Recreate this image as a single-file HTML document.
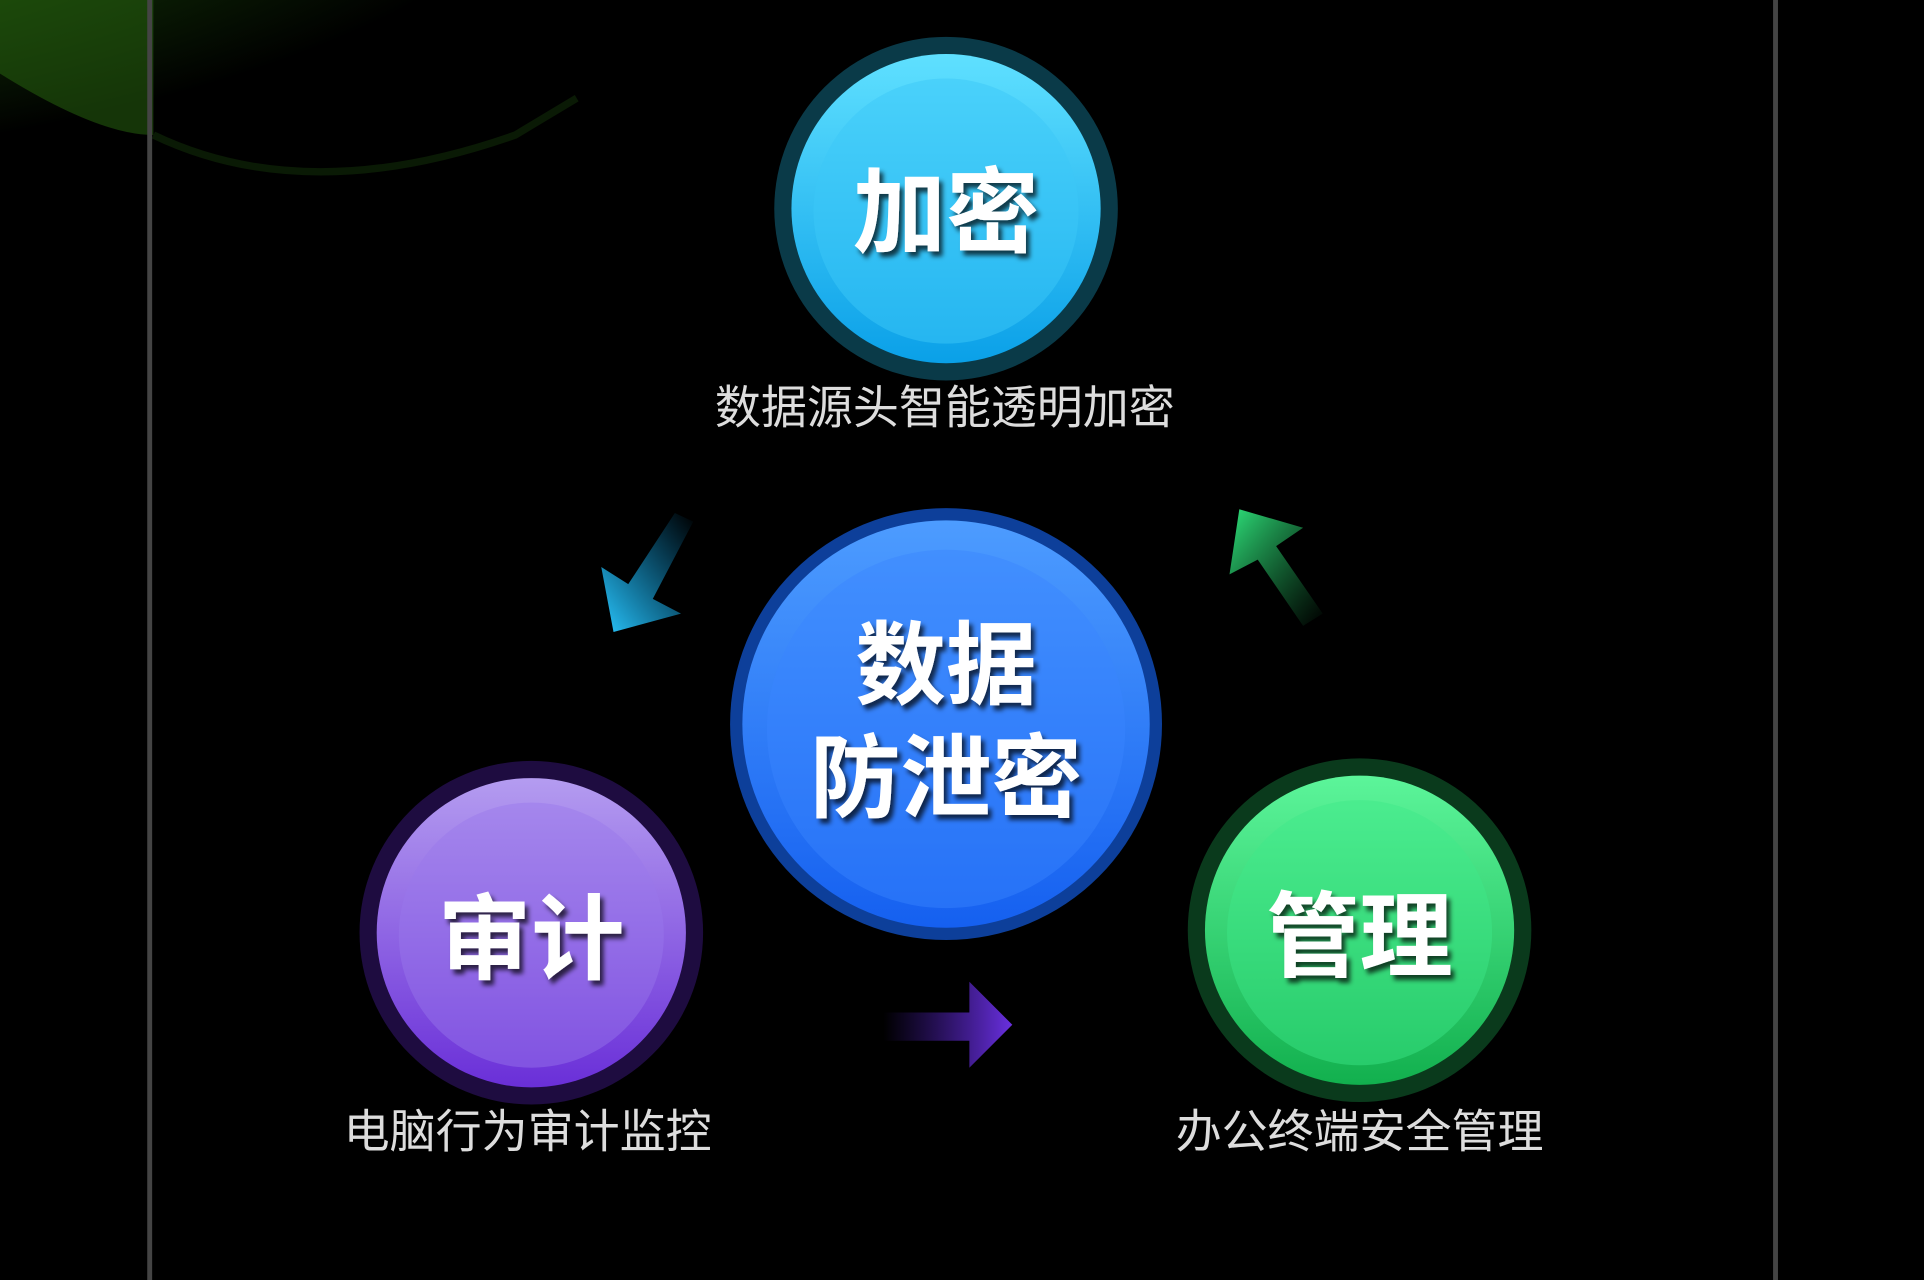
<!DOCTYPE html>
<html><head><meta charset="utf-8"><style>
html,body{margin:0;padding:0;background:#000;width:1924px;height:1280px;overflow:hidden}
svg{display:block}
text{font-family:"Liberation Sans","Noto Sans CJK SC",sans-serif}
</style></head><body>
<svg width="1924" height="1280" viewBox="0 0 1568 1043" preserveAspectRatio="none">
<defs>
<radialGradient id="bg" cx="0" cy="0" r="1">
<stop offset="0" stop-color="#3a8a18"/><stop offset="0.45" stop-color="#1a4a0a"/><stop offset="1" stop-color="#000"/></radialGradient>
<linearGradient id="cy" x1="0" y1="0" x2="0" y2="1"><stop offset="0" stop-color="#5fe0ff"/><stop offset="1" stop-color="#0aa0e8"/></linearGradient>
<linearGradient id="bl" x1="0" y1="0" x2="0" y2="1"><stop offset="0" stop-color="#4d9cff"/><stop offset="1" stop-color="#1560f0"/></linearGradient>
<linearGradient id="pu" x1="0" y1="0" x2="0" y2="1"><stop offset="0" stop-color="#b49cf0"/><stop offset="1" stop-color="#6a2fd8"/></linearGradient>
<linearGradient id="gr" x1="0" y1="0" x2="0" y2="1"><stop offset="0" stop-color="#5cf59a"/><stop offset="1" stop-color="#12b04e"/></linearGradient>
<linearGradient id="ac" x1="1" y1="0" x2="0" y2="1"><stop offset="0" stop-color="#0aa0e8" stop-opacity="0"/><stop offset="1" stop-color="#2ac8ff"/></linearGradient>
<linearGradient id="ag" x1="1" y1="1" x2="0" y2="0"><stop offset="0" stop-color="#1fa050" stop-opacity="0"/><stop offset="1" stop-color="#2ee07a"/></linearGradient>
<linearGradient id="ap" x1="0" y1="0" x2="1" y2="0"><stop offset="0" stop-color="#5020c0" stop-opacity="0"/><stop offset="1" stop-color="#6a30e0"/></linearGradient>
<filter id="sh"><feDropShadow dx="3" dy="4" stdDeviation="2" flood-color="#000" flood-opacity="0.7"/></filter>
</defs>
<rect width="1568" height="1043" fill="#000"/>
<ellipse cx="0" cy="0" rx="470" ry="150" fill="url(#bg)"/>
<path d="M0,60 Q80,110 125,110 L125,0 L0,0 Z" fill="#2a6a10" opacity="0.5"/>
<path d="M125,110 Q250,170 420,110 L470,80" fill="none" stroke="#0a1a05" stroke-width="6"/>
<rect x="120" y="0" width="4" height="1043" fill="#444"/>
<rect x="1445" y="0" width="4" height="1043" fill="#444"/>

<circle cx="771" cy="170" r="140" fill="#0a3a48"/>
<circle cx="771" cy="170" r="126" fill="url(#cy)"/>
<circle cx="771" cy="172" r="108" fill="#3cc8f8" opacity="0.5"/>
<text x="771" y="200" font-size="76" font-weight="bold" fill="#fff" text-anchor="middle" filter="url(#sh)">加密</text>
<text x="770" y="345" font-size="37.5" fill="#ddd" text-anchor="middle">数据源头智能透明加密</text>

<circle cx="771" cy="590" r="176" fill="#0d3f9a"/>
<circle cx="771" cy="590" r="166" fill="url(#bl)"/>
<circle cx="771" cy="594" r="146" fill="#3a86ff" opacity="0.45"/>
<text x="771" y="568" font-size="74" font-weight="bold" fill="#fff" text-anchor="middle" filter="url(#sh)">数据</text>
<text x="771" y="660" font-size="74" font-weight="bold" fill="#fff" text-anchor="middle" filter="url(#sh)">防泄密</text>

<circle cx="433" cy="760" r="140" fill="#1e0c40"/>
<circle cx="433" cy="760" r="126" fill="url(#pu)"/>
<circle cx="433" cy="762" r="108" fill="#9a78ea" opacity="0.45"/>
<text x="433" y="792" font-size="76" font-weight="bold" fill="#fff" text-anchor="middle" filter="url(#sh)">审计</text>
<text x="430" y="935" font-size="37.5" fill="#ddd" text-anchor="middle">电脑行为审计监控</text>

<circle cx="1108" cy="758" r="140" fill="#0a3a1c"/>
<circle cx="1108" cy="758" r="126" fill="url(#gr)"/>
<circle cx="1108" cy="760" r="108" fill="#3ee88a" opacity="0.45"/>
<text x="1108" y="790" font-size="76" font-weight="bold" fill="#fff" text-anchor="middle" filter="url(#sh)">管理</text>
<text x="1108" y="935" font-size="37.5" fill="#ddd" text-anchor="middle">办公终端安全管理</text>

<polygon points="565,425 550,418 512,476 490,462 500,515 555,500 532,488" fill="url(#ac)"/>
<polygon points="1062,510 1078,500 1040,445 1062,430 1010,415 1002,468 1025,456" fill="url(#ag)"/>
<polygon points="720,825 790,825 790,800 825,835 790,870 790,848 720,848" fill="url(#ap)"/>
</svg>
</body></html>
